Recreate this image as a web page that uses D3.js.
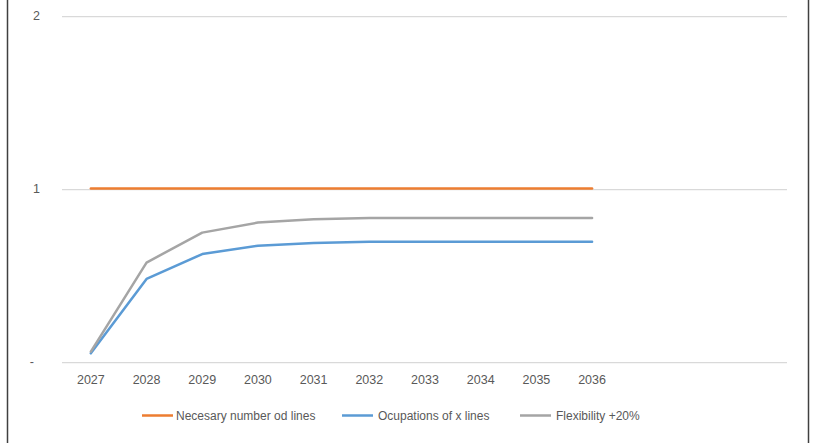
<!DOCTYPE html>
<html>
<head>
<meta charset="utf-8">
<script src="https://cdn.jsdelivr.net/npm/d3@7"></script>
<style>
  html, body { margin: 0; padding: 0; background: #fff; }
  svg { display: block; }
  text { font-family: "Liberation Sans", Arial, sans-serif; fill: #595959; }
</style>
</head>
<body>
<svg id="chart" width="818" height="443"></svg>
<script>
// ---- data ----
const categories = ["2027","2028","2029","2030","2031","2032","2033","2034","2035","2036","","",""];
const necessaryLines = [1,1,1,1,1,1,1,1,1,1];
const occupationLines = [0.047,0.477,0.621,0.669,0.685,0.692,0.692,0.692,0.692,0.692];
const flexibilityLines = [0.057,0.572,0.745,0.803,0.822,0.830,0.830,0.830,0.830,0.830];
const yTicks = [0, 1, 2];
const yTickLabels = ["-", "1", "2"];
const seriesNames = ["Necesary number od lines", "Ocupations of x lines", "Flexibility +20%"];
const seriesColors = ["#ED7D31", "#5B9BD5", "#A5A5A5"];

const series = [
  { name: seriesNames[0], values: necessaryLines, color: seriesColors[0] },
  { name: seriesNames[1], values: occupationLines, color: seriesColors[1] },
  { name: seriesNames[2], values: flexibilityLines, color: seriesColors[2] }
];

const svg = d3.select("#chart");

// outer chart border (extends beyond the captured frame)
svg.append("rect")
  .attr("x", 7.5).attr("y", -10)
  .attr("width", 801).attr("height", 470)
  .attr("fill", "none").attr("stroke", "#404040").attr("stroke-width", 1.5);

const plot = { left: 63, right: 787, top: 15.5, bottom: 361.5 };

const x = d3.scaleBand()
  .domain(d3.range(categories.length))
  .range([plot.left, plot.right])
  .paddingInner(0).paddingOuter(0);

const y = d3.scaleLinear()
  .domain([0, 2])
  .range([plot.bottom, plot.top]);

// gridlines
svg.append("g")
  .selectAll("line")
  .data(yTicks)
  .join("line")
  .attr("x1", plot.left - 1).attr("x2", plot.right)
  .attr("y1", d => Math.round(y(d)) + 0.5).attr("y2", d => Math.round(y(d)) + 0.5)
  .attr("stroke", "#D9D9D9").attr("stroke-width", 1.25);

// y axis labels
const yAxis = d3.axisLeft(y)
  .tickValues(yTicks)
  .tickFormat((d, i) => yTickLabels[i])
  .tickSize(0)
  .tickPadding(0);
const yg = svg.append("g")
  .attr("transform", "translate(40,0)")
  .call(yAxis);
yg.select(".domain").remove();
yg.selectAll("text")
  .attr("font-size", 12.5)
  .attr("font-family", "Liberation Sans, Arial, sans-serif")
  .attr("fill", "#595959")
  .attr("dx", d => d === 0 ? -6 : 0);

// x axis labels
const xAxis = d3.axisBottom(x)
  .tickFormat(i => categories[i])
  .tickSize(0)
  .tickPadding(0);
const xg = svg.append("g")
  .attr("transform", `translate(0,${plot.bottom + 13.5})`)
  .call(xAxis);
xg.select(".domain").remove();
xg.selectAll("text")
  .attr("font-size", 12.5)
  .attr("font-family", "Liberation Sans, Arial, sans-serif")
  .attr("fill", "#595959");

// lines
const line = d3.line()
  .x((d, i) => x(i) + x.bandwidth() / 2)
  .y(d => y(d));

svg.append("g")
  .selectAll("path")
  .data(series)
  .join("path")
  .attr("d", s => line(s.values))
  .attr("fill", "none")
  .attr("stroke", s => s.color)
  .attr("stroke-width", 2.5)
  .attr("stroke-linejoin", "round")
  .attr("stroke-linecap", "round");

// legend
const legendX = [142, 342, 520];
const legendY = 415.5;
const lg = svg.append("g");
const items = lg.selectAll("g")
  .data(series)
  .join("g")
  .attr("transform", (d, i) => `translate(${legendX[i]},${legendY})`);
items.append("line")
  .attr("x1", 0).attr("x2", 31)
  .attr("y1", 0).attr("y2", 0)
  .attr("stroke", d => d.color)
  .attr("stroke-width", 2.5);
items.append("text")
  .attr("x", (d, i) => i === 0 ? 34 : 36)
  .attr("y", 0)
  .attr("dy", "0.35em")
  .attr("font-size", 12)
  .text(d => d.name);
</script>
</body>
</html>
